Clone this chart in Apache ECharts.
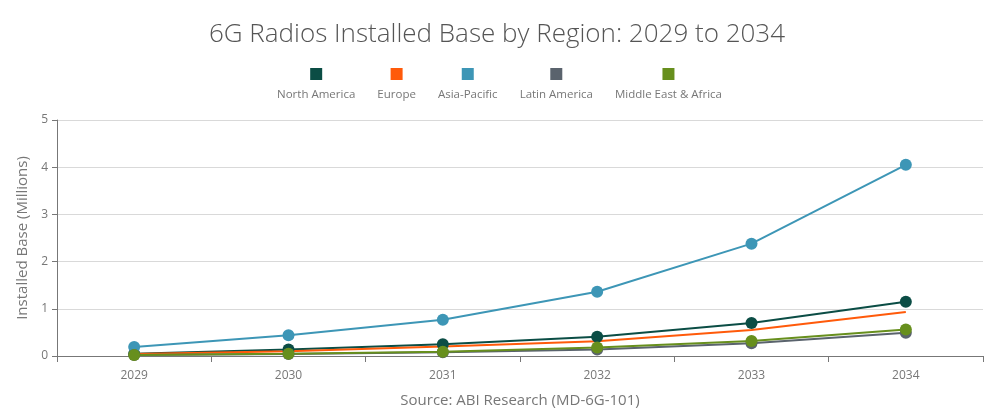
<!DOCTYPE html>
<html>
<head>
<meta charset="utf-8">
<script src="https://cdn.jsdelivr.net/npm/echarts@6/dist/echarts.min.js"></script>
<style>
  html, body { margin: 0; padding: 0; background: #fff; }
  #chart { width: 994px; height: 420px; }
</style>
</head>
<body>
<div id="chart"></div>
<script>
// data
const years = ['2029', '2030', '2031', '2032', '2033', '2034']
const northAmerica = [0.05, 0.14, 0.25, 0.41, 0.70, 1.15]
const europe = [0.04, 0.10, 0.20, 0.31, 0.55, 0.93]
const asiaPacific = [0.19, 0.44, 0.77, 1.36, 2.38, 4.05]
const latinAmerica = [0.02, 0.04, 0.08, 0.14, 0.27, 0.49]
const middleEastAfrica = [0.02, 0.05, 0.09, 0.18, 0.32, 0.56]

const colors = {
  'North America': '#0b4d45',
  'Europe': '#ff5a0a',
  'Asia-Pacific': '#3d96b6',
  'Latin America': '#5a636d',
  'Middle East & Africa': '#678f1d'
}
const keys = { 'North America': 'na', 'Europe': 'eu', 'Asia-Pacific': 'ap', 'Latin America': 'la', 'Middle East & Africa': 'mea' }

// legend: coloured square above the name
const rich = { t: { color: '#777', fontSize: 11.5, align: 'center', padding: [10, 0, 0, 0] } }
Object.keys(colors).forEach(n => {
  rich[keys[n]] = { width: 12, height: 12, backgroundColor: colors[n], align: 'center' }
})

const font = '"Segoe UI", "Open Sans", "Noto Sans", sans-serif'
const chart = echarts.init(document.getElementById('chart'), null, { renderer: 'canvas' })

const mkSeries = (name, data, showSymbol) => ({
  name,
  type: 'line',
  data,
  color: colors[name],
  symbol: 'circle',
  symbolSize: 12,
  showSymbol,
  lineStyle: { width: 2 },
  emphasis: { disabled: true }
})

chart.setOption({
  animation: false,
  textStyle: { fontFamily: font },
  title: {
    text: '6G Radios Installed Base by Region: 2029 to 2034',
    left: 'center',
    top: 17,
    textStyle: { fontSize: 26, fontWeight: 'lighter', color: '#555', fontFamily: font }
  },
  legend: {
    top: 61,
    left: 'center',
    icon: 'none',
    itemWidth: 0,
    itemHeight: 0,
    itemGap: 17,
    formatter: n => '{' + keys[n] + '|}\n{t|' + n + '}',
    textStyle: { rich, fontFamily: font, lineHeight: 16 },
    data: Object.keys(colors)
  },
  grid: { left: 57, right: 11, top: 120, bottom: 64, containLabel: false },
  xAxis: {
    type: 'category',
    data: years,
    boundaryGap: true,
    name: 'Source: ABI Research (MD-6G-101)',
    nameLocation: 'middle',
    nameGap: 37,
    nameTextStyle: { color: '#777', fontSize: 15 },
    axisLine: { lineStyle: { color: '#777' } },
    axisTick: { show: true, length: 6, lineStyle: { color: '#777' } },
    axisLabel: { color: '#777', fontSize: 12, margin: 14 }
  },
  yAxis: {
    type: 'value',
    min: 0,
    max: 5,
    interval: 1,
    name: 'Installed Base (Millions)',
    nameLocation: 'middle',
    nameGap: 26,
    nameTextStyle: { color: '#777', fontSize: 15 },
    axisLine: { show: true, lineStyle: { color: '#777' } },
    axisTick: { show: true, length: 5, lineStyle: { color: '#777' } },
    axisLabel: { color: '#777', fontSize: 12, margin: 9 },
    splitLine: { lineStyle: { color: '#d9d9d9' } }
  },
  series: [
    mkSeries('North America', northAmerica, true),
    mkSeries('Europe', europe, false),
    mkSeries('Asia-Pacific', asiaPacific, true),
    mkSeries('Latin America', latinAmerica, true),
    mkSeries('Middle East & Africa', middleEastAfrica, true)
  ]
})
</script>
</body>
</html>
